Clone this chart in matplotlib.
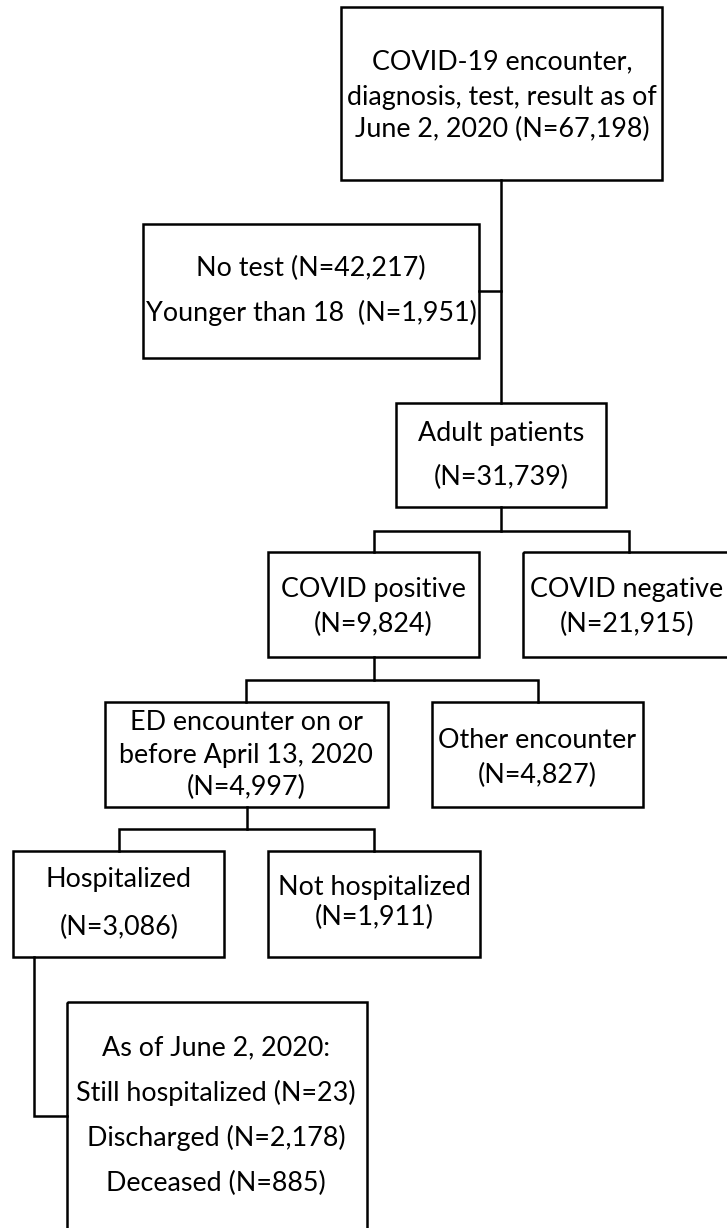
import matplotlib
matplotlib.use('Agg')
import matplotlib.pyplot as plt
from matplotlib.patches import Rectangle

# flowchart content
counts_total = 67198
counts_notest = 42217
counts_young = 1951
counts_adult = 31739
counts_pos = 9824
counts_neg = 21915
counts_ed = 4997
counts_other = 4827
counts_hosp = 3086
counts_nothosp = 1911
counts_still = 23
counts_disch = 2178
counts_dead = 885


def n(v):
    return '(N={:,})'.format(v)


# each box: (x0, y0, x1, y1) in pixels, text centre x, list of (line, y)
boxes = [
    ((341, 7, 662, 180), 502, [('COVID-19 encounter,', 62),
                               ('diagnosis, test, result as of', 97),
                               ('June 2, 2020 ' + n(counts_total), 129)]),
    ((143, 224, 479, 358), 311, [('No test ' + n(counts_notest), 268),
                                 ('Younger than 18  ' + n(counts_young), 313)]),
    ((396, 403, 606, 507), 501, [('Adult patients', 433), (n(counts_adult), 477)]),
    ((268, 552, 479, 657), 373, [('COVID positive', 590), (n(counts_pos), 624)]),
    ((523, 552, 740, 657), 627, [('COVID negative', 590), (n(counts_neg), 624)]),
    ((105, 702, 388, 807), 246, [('ED encounter on or', 722),
                                 ('before April 13, 2020', 755),
                                 (n(counts_ed), 787)]),
    ((432, 702, 643, 807), 537, [('Other encounter', 740), (n(counts_other), 775)]),
    ((13, 851, 224, 957), 119, [('Hospitalized', 880), (n(counts_hosp), 927)]),
    ((268, 851, 480, 957), 374, [('Not hospitalized', 887), (n(counts_nothosp), 917)]),
    ((67, 1002, 367, 1240), 216, [('As of June 2, 2020:', 1048),
                                  ('Still hospitalized ' + n(counts_still), 1093),
                                  ('Discharged ' + n(counts_disch), 1138),
                                  ('Deceased ' + n(counts_dead), 1183)]),
]

# connectors as polylines
links = [
    [(501, 180), (501, 403)],
    [(479, 291), (501, 291)],
    [(501, 507), (501, 531)],
    [(374, 552), (374, 531), (629, 531), (629, 552)],
    [(374, 657), (374, 680)],
    [(246, 702), (246, 680), (538, 680), (538, 702)],
    [(247, 807), (247, 829)],
    [(119, 851), (119, 829), (374, 829), (374, 851)],
    [(34, 957), (34, 1116), (67, 1116)],
]

W, H = 727, 1228
fig = plt.figure(figsize=(W / 100, H / 100), dpi=100)
ax = fig.add_axes([0, 0, 1, 1])
ax.set_xlim(0, W)
ax.set_ylim(H, 0)
ax.axis('off')

lw = 1.8
for (x0, y0, x1, y1), cx, lines in boxes:
    ax.add_patch(Rectangle((x0, y0), x1 - x0, y1 - y0, fill=False,
                           edgecolor='black', linewidth=lw, joinstyle='miter'))
    for txt, ty in lines:
        ax.text(cx, ty, txt, ha='center', va='center', fontsize=19.4,
                family='Lato', color='black')

for pts in links:
    xs = [p[0] for p in pts]
    ys = [p[1] for p in pts]
    ax.plot(xs, ys, color='black', linewidth=lw, solid_joinstyle='miter',
            solid_capstyle='projecting')

fig.savefig('out.png', dpi=100, facecolor='white')
